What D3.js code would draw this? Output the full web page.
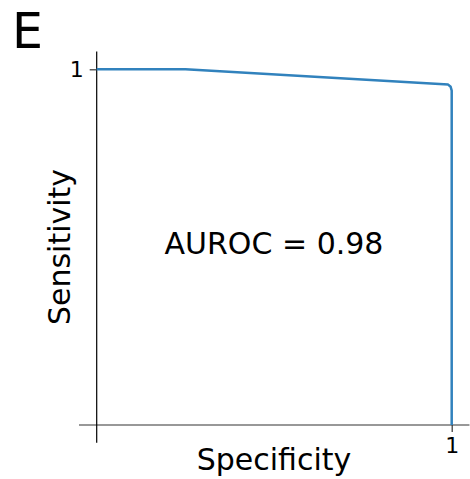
<!DOCTYPE html>
<html><head><meta charset="utf-8">
<script src="https://cdn.jsdelivr.net/npm/d3@7"></script>
<style>body{margin:0;background:#fff}svg{display:block}text{font-family:"DejaVu Sans",sans-serif;fill:#000}</style>
</head><body>
<script>
const specificity = [0, 0.25, 0.99, 0.997, 1.0, 1.0];
const sensitivity = [1, 1, 0.957, 0.951, 0.94, 0];
const xTicks = [1];
const yTicks = [1];
const panelLabel = "E";
const aurocLabel = "AUROC = 0.98";

const W = 470, H = 479;
const svg = d3.select("body").append("svg").attr("width", W).attr("height", H);
const x = d3.scaleLinear().domain([0, 1]).range([96.7, 451.7]);
const y = d3.scaleLinear().domain([0, 1]).range([425, 69.3]);

// spines
svg.append("line").attr("x1", x(-0.05)).attr("x2", x(1.05)).attr("y1", y(0)).attr("y2", y(0))
  .attr("stroke", "#333").attr("stroke-width", 1.2);
svg.append("line").attr("x1", x(0)).attr("x2", x(0)).attr("y1", y(-0.05)).attr("y2", y(1.05))
  .attr("stroke", "#000").attr("stroke-width", 1.2);

// ticks
const xa = svg.append("g").attr("transform", `translate(0,${y(0)})`)
  .call(d3.axisBottom(x).tickValues(xTicks).tickFormat(d3.format("d")).tickSize(7).tickPadding(5));
xa.select(".domain").remove();
const ya = svg.append("g").attr("transform", `translate(${x(0)},0)`)
  .call(d3.axisLeft(y).tickValues(yTicks).tickFormat(d3.format("d")).tickSize(7).tickPadding(6));
ya.select(".domain").remove();
svg.selectAll(".tick line").attr("stroke", "#333").attr("stroke-width", 1.2);
svg.selectAll(".tick text").attr("font-size", 22).attr("font-family", "DejaVu Sans").attr("fill", "#000");

// curve
const pts = specificity.map((s, i) => [s, sensitivity[i]]);
svg.append("path").datum(pts)
  .attr("d", d3.line().x(d => x(d[0])).y(d => y(d[1])))
  .attr("fill", "none").attr("stroke", "#3182bd").attr("stroke-width", 2.5)
  .attr("stroke-linejoin", "round");

// labels
svg.append("text").attr("x", 274).attr("y", 470).attr("text-anchor", "middle")
  .attr("font-size", 30).text("Specificity");
svg.append("text").attr("transform", "translate(70,247) rotate(-90)").attr("text-anchor", "middle")
  .attr("font-size", 30).text("Sensitivity");
svg.append("text").attr("x", 274).attr("y", 254).attr("text-anchor", "middle")
  .attr("font-size", 30).text(aurocLabel);
svg.append("text").attr("x", 12).attr("y", 48).attr("font-size", 49).text(panelLabel);
</script>
</body></html>
